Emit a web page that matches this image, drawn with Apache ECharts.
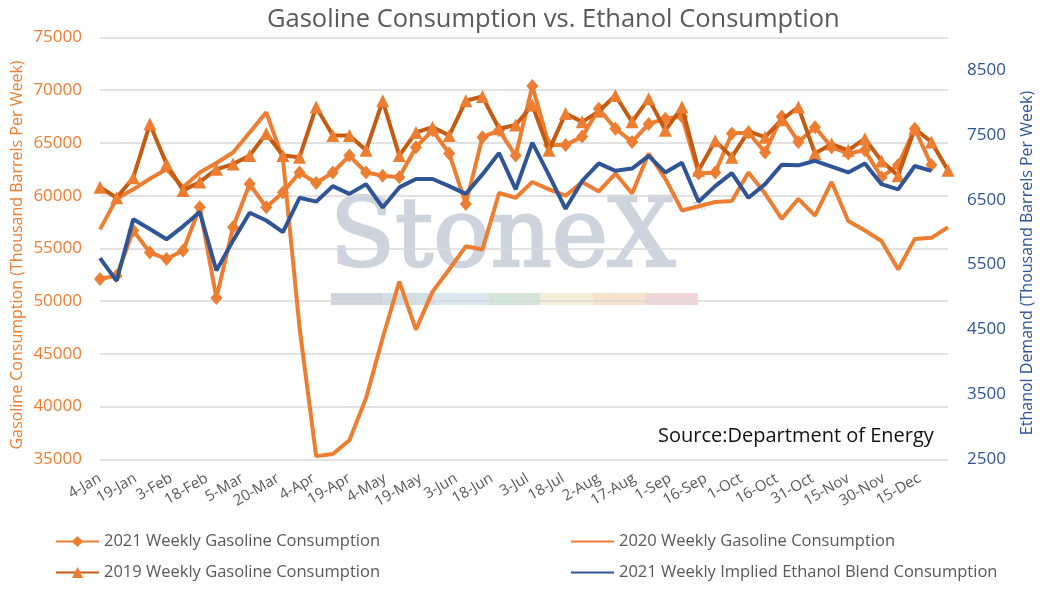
<!DOCTYPE html>
<html>
<head>
<meta charset="UTF-8">
<title>Gasoline vs Ethanol</title>
<script src="https://cdn.jsdelivr.net/npm/echarts@6/dist/echarts.min.js"></script>
<style>
  html, body { margin: 0; padding: 0; background: #fff; }
  #main { width: 1046px; height: 592px; }
</style>
</head>
<body>
<div id="main"></div>
<script>
// days after 4-Jan for each weekly reading
var weekDays = [0, 7, 14, 21, 28, 35, 42, 49, 56, 63, 70, 77, 84, 91, 98, 105, 112, 119, 126, 133,
  140, 147, 154, 161, 168, 175, 182, 189, 196, 203, 210, 217, 224, 231, 238, 245, 252, 259, 266, 273,
  280, 287, 294, 301, 308, 315, 322, 329, 336, 343, 350, 357];

// x labels, one every 15 days
var tickLabels = ['4-Jan', '19-Jan', '3-Feb', '18-Feb', '5-Mar', '20-Mar', '4-Apr', '19-Apr', '4-May',
  '19-May', '3-Jun', '18-Jun', '3-Jul', '18-Jul', '2-Aug', '17-Aug', '1-Sep', '16-Sep', '1-Oct',
  '16-Oct', '31-Oct', '15-Nov', '30-Nov', '15-Dec'];

var gas2021 = [52100, 52400, 56700, 54600, 54000, 54800, 58900, 50300, 57000, 61100,
  58900, 60300, 62200, 61200, 62200, 63800, 62200, 61900, 61750, 64600,
  66200, 64000, 59200, 65550, 66200, 63800, 70400, 64800, 64800, 65600,
  68250, 66350, 65100, 66800, 67300, 67500, 62100, 62200, 65900, 66000,
  64100, 67500, 65100, 66500, 64600, 64000, 64300, 61750, 62900, 66350, 62900];

var gas2020 = [56800, 59700, 60600, 61600, 62500, 60800, 62200, 63100, 64100, 66000,
  67900, 63500, 47500, 35300, 35500, 36800, 40800, 46500, 51850, 47300,
  50900, 53000, 55200, 54900, 60250, 59800, 61300, 60600, 60000, 61300,
  60400, 62100, 60200, 64000, 61600, 58600, 59000, 59400, 59500, 62200,
  60200, 57800, 59700, 58100, 61300, 57600, 56700, 55700, 53000, 55900, 56000, 57000];

var gas2019 = [60800, 59800, 61700, 66800, 63000, 60500, 61300, 62500, 63000, 63800,
  65900, 63800, 63650, 68400, 65700, 65700, 64300, 69000, 63800, 66000,
  66500, 65700, 69000, 69400, 66350, 66700, 68600, 64300, 67800, 67000,
  68000, 69500, 67000, 69200, 66200, 68400, 62400, 65200, 63650, 66100,
  65550, 67200, 68400, 64000, 64900, 64300, 65400, 63300, 61900, 66350, 65100, 62400];

var ethanol2021 = [5600, 5250, 6200, 6050, 5890, 6090, 6310, 5410, 5870, 6300,
  6180, 6000, 6530, 6470, 6710, 6590, 6740, 6380, 6690, 6820,
  6820, 6710, 6590, 6890, 7220, 6660, 7380, 6880, 6360, 6790,
  7060, 6945, 6980, 7175, 6920, 7070, 6470, 6710, 6910, 6530,
  6740, 7040, 7030, 7100, 7010, 6920, 7060, 6740, 6660, 7020, 6945];

function pairs(vals) {
  return vals.map(function (v, i) { return [weekDays[i], v]; });
}

var FONT = '"Open Sans", "Liberation Sans", sans-serif';
var ORANGE = '#ED7D31';
var DARK_ORANGE = '#C55A11';
var BLUE = '#2F5597';
var GREY = '#595959';

var chart = echarts.init(document.getElementById('main'), null, { renderer: 'canvas' });

// StoneX watermark: logo text plus pastel stripe under it
var stripe = ['#cfd5dc', '#d3dde6', '#dbe8f1', '#d3e4d9', '#f6efd8', '#f8e2cd', '#f0d5d8'];
var graphics = [
  {
    type: 'text', x: 330, y: 241, z: -10, silent: true,
    style: {
      text: 'StoneX', font: '95px "DejaVu Serif", serif', fill: '#cdd4dd',
      stroke: '#cdd4dd', lineWidth: 2.5, verticalAlign: 'middle'
    }
  },
  {
    type: 'text', x: 692, y: 202, z: -10, silent: true,
    style: { text: 'TM', font: '10px ' + FONT, fill: '#c3cad3' }
  },
  {
    type: 'text', x: 658, y: 426,
    style: { text: 'Source:Department of Energy', font: '20px ' + FONT, fill: '#111' }
  },
  {
    type: 'text', x: 17, y: 255, rotation: Math.PI / 2,
    style: {
      text: 'Gasoline Consumption (Thousand Barrels Per Week)', font: '16px ' + FONT,
      fill: ORANGE, align: 'center', verticalAlign: 'middle'
    }
  },
  {
    type: 'text', x: 1027, y: 263, rotation: Math.PI / 2,
    style: {
      text: 'Ethanol Demand (Thousand Barrels Per Week)', font: '16px ' + FONT,
      fill: BLUE, align: 'center', verticalAlign: 'middle'
    }
  }
];
stripe.forEach(function (c, i) {
  graphics.push({
    type: 'rect', z: -10, silent: true,
    shape: { x: 331 + i * 52.4, y: 293, width: 52.4, height: 12 },
    style: { fill: c }
  });
});

var legendBase = {
  orient: 'vertical',
  top: 533,
  padding: 0,
  itemWidth: 43,
  itemHeight: 14,
  itemGap: 14,
  textStyle: { color: GREY, fontSize: 16.5, fontFamily: FONT }
};

chart.setOption({
  textStyle: { fontFamily: FONT },
  title: {
    text: 'Gasoline Consumption vs. Ethanol Consumption',
    left: 262,
    top: 2,
    textStyle: { color: GREY, fontSize: 25.5, fontWeight: 'normal', fontFamily: FONT }
  },
  graphic: graphics,
  legend: [
    Object.assign({}, legendBase, {
      left: 55,
      data: ['2021 Weekly Gasoline Consumption', '2019 Weekly Gasoline Consumption']
    }),
    Object.assign({}, legendBase, {
      left: 570,
      data: [
        { name: '2020 Weekly Gasoline Consumption', itemStyle: { opacity: 0 } },
        { name: '2021 Weekly Implied Ethanol Blend Consumption', itemStyle: { opacity: 0 } }
      ]
    })
  ],
  grid: { left: 100, right: 98, top: 37.5, bottom: 132.7 },
  xAxis: {
    type: 'value',
    min: 0,
    max: 357,
    interval: 15,
    axisLine: { show: false },
    axisTick: { show: false },
    splitLine: { show: false },
    axisLabel: {
      rotate: 30,
      margin: 18,
      color: GREY,
      fontSize: 15,
      showMaxLabel: false,
      formatter: function (v) {
        return v % 15 === 0 ? (tickLabels[v / 15] || '') : '';
      }
    }
  },
  yAxis: [
    {
      type: 'value',
      min: 35000,
      max: 75000,
      interval: 5000,
      axisLine: { show: false },
      axisTick: { show: false },
      axisLabel: { color: ORANGE, fontSize: 17, margin: 18, formatter: function (v) { return String(v); } },
      splitLine: { lineStyle: { color: '#d9d9d9', width: 1.5 } }
    },
    {
      type: 'value',
      min: 2500,
      max: 9000,
      interval: 1000,
      axisLine: { show: false },
      axisTick: { show: false },
      axisLabel: {
        color: BLUE, fontSize: 17, margin: 19, showMaxLabel: false,
        formatter: function (v) { return String(v); }
      },
      splitLine: { show: false }
    }
  ],
  series: [
    {
      name: '2021 Weekly Gasoline Consumption',
      type: 'line',
      data: pairs(gas2021),
      symbol: 'diamond',
      symbolSize: [12, 14],
      itemStyle: { color: ORANGE },
      lineStyle: { color: ORANGE, width: 4 },
      z: 2
    },
    {
      name: '2020 Weekly Gasoline Consumption',
      type: 'line',
      data: pairs(gas2020),
      symbol: 'none',
      itemStyle: { color: ORANGE },
      lineStyle: { color: ORANGE, width: 4 },
      z: 3
    },
    {
      name: '2019 Weekly Gasoline Consumption',
      type: 'line',
      data: pairs(gas2019),
      symbol: 'triangle',
      symbolSize: 13,
      itemStyle: { color: ORANGE },
      lineStyle: { color: DARK_ORANGE, width: 4 },
      z: 4
    },
    {
      name: '2021 Weekly Implied Ethanol Blend Consumption',
      type: 'line',
      yAxisIndex: 1,
      data: pairs(ethanol2021),
      symbol: 'none',
      itemStyle: { color: BLUE },
      lineStyle: { color: BLUE, width: 4 },
      z: 5
    }
  ]
});
</script>
</body>
</html>
